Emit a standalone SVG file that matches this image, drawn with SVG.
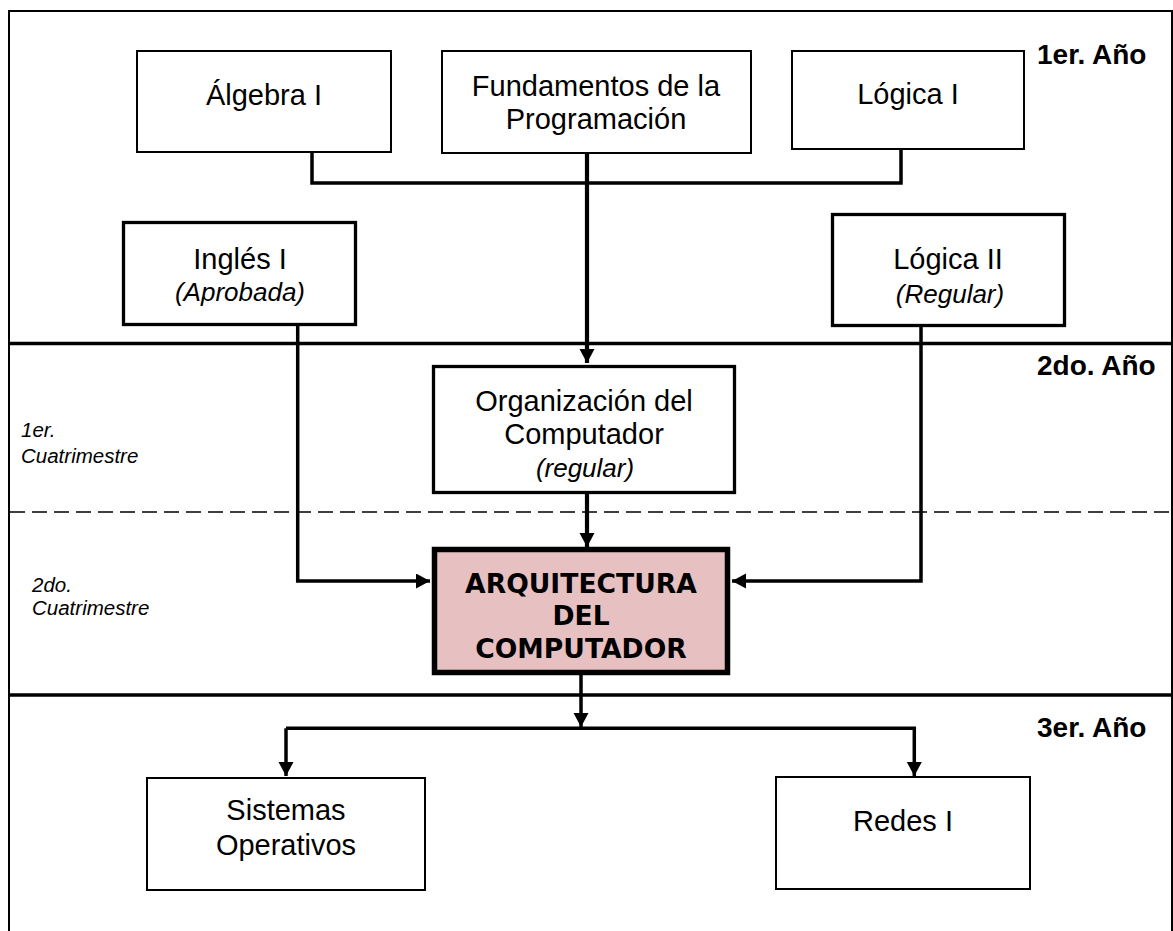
<svg xmlns="http://www.w3.org/2000/svg" width="1173" height="931" viewBox="0 0 1173 931">
<style>
  .box { fill: #ffffff; stroke: #000; stroke-width: 2; }
  .box3 { fill: #ffffff; stroke: #000; stroke-width: 3.3; }
  .main { fill: #E7C1C1; stroke: #000; stroke-width: 5.5; }
  .t { font-family: "Liberation Sans", Arial, sans-serif; font-size: 29px; fill: #000; text-anchor: middle; }
  .ti { font-family: "Liberation Sans", Arial, sans-serif; font-size: 26px; font-style: italic; fill: #000; text-anchor: middle; }
  .year { font-family: "Liberation Sans", Arial, sans-serif; font-size: 28px; font-weight: bold; fill: #000; }
  .cuat { font-family: "Liberation Sans", Arial, sans-serif; font-size: 20.5px; font-style: italic; fill: #000; }
  .mt { font-family: "DejaVu Sans", Verdana, sans-serif; font-size: 26.6px; font-weight: bold; fill: #000; text-anchor: middle; }
  .frame { stroke: #000; stroke-width: 2; fill: none; }
  .sep { stroke: #000; stroke-width: 3.5; fill: none; }
  .dash { stroke: #000; stroke-width: 1.6; stroke-dasharray: 15 7; fill: none; }
  .c { stroke: #000; stroke-width: 3.5; fill: none; }
  .c4 { stroke: #000; stroke-width: 4.2; fill: none; }
</style>
<defs>
  <marker id="ah" markerUnits="userSpaceOnUse" markerWidth="16" markerHeight="16" refX="14" refY="7.5" orient="auto">
    <path d="M0,0 L14,7.5 L0,15 z" fill="#000"/>
  </marker>
</defs>
<rect width="1173" height="931" fill="#ffffff"/>
<g id="frame">
  <path class="frame" d="M9,931 V11 H1172 V931"/>
  <line class="sep" x1="10" y1="343.5" x2="1173" y2="343.5"/>
  <line class="dash" x1="10" y1="512" x2="1173" y2="512"/>
  <line class="sep" x1="10" y1="695" x2="1173" y2="695"/>
  <text class="year" x="1037" y="64">1er. Año</text>
  <text class="year" x="1037" y="375">2do. Año</text>
  <text class="year" x="1037" y="737">3er. Año</text>
  <text class="cuat" x="21" y="437">1er.</text>
  <text class="cuat" x="21" y="463">Cuatrimestre</text>
  <text class="cuat" x="32" y="592">2do.</text>
  <text class="cuat" x="32" y="615">Cuatrimestre</text>
</g>
<g id="connectors">
  <path class="c" d="M312,153 V183 H901 V150"/>
  <path class="c4" d="M587,154 V363" marker-end="url(#ah)"/>
  <path class="c4" d="M587,494 V547" marker-end="url(#ah)"/>
  <path class="c" d="M297.7,326 V581 H430" marker-end="url(#ah)"/>
  <path class="c" d="M921,327 V581 H732" marker-end="url(#ah)"/>
  <path class="c" d="M581,675 V727" marker-end="url(#ah)"/>
  <path class="c" d="M286,728.3 V776" marker-end="url(#ah)"/>
  <path class="c" d="M286,728.3 H914.3 V776" marker-end="url(#ah)"/>
</g>
<g id="algebra">
  <rect class="box" x="137" y="51" width="254" height="101"/>
  <text class="t" x="264" y="105">Álgebra I</text>
</g>
<g id="fundamentos">
  <rect class="box" x="442" y="51" width="309" height="102"/>
  <text class="t" x="596" y="96">Fundamentos de la</text>
  <text class="t" x="596" y="129">Programación</text>
</g>
<g id="logica1">
  <rect class="box" x="792" y="51" width="232" height="98"/>
  <text class="t" x="908" y="104">Lógica I</text>
</g>
<g id="ingles">
  <rect class="box3" x="123.5" y="222.5" width="232" height="102"/>
  <text class="t" x="240" y="269">Inglés I</text>
  <text class="ti" x="240" y="301">(Aprobada)</text>
</g>
<g id="logica2">
  <rect class="box3" x="832.5" y="214.5" width="232" height="111"/>
  <text class="t" x="948" y="269">Lógica II</text>
  <text class="ti" x="950" y="303">(Regular)</text>
</g>
<g id="organizacion">
  <rect class="box3" x="433.5" y="366.5" width="301" height="126"/>
  <text class="t" x="584" y="411">Organización del</text>
  <text class="t" x="584" y="444">Computador</text>
  <text class="ti" x="585" y="477">(regular)</text>
</g>
<g id="arquitectura">
  <rect class="main" x="434.5" y="549.5" width="293" height="123"/>
  <text class="mt" x="581" y="593">ARQUITECTURA</text>
  <text class="mt" x="581" y="625">DEL</text>
  <text class="mt" x="581" y="658">COMPUTADOR</text>
</g>
<g id="sistemas">
  <rect class="box" x="147" y="778" width="278" height="112"/>
  <text class="t" x="286" y="820">Sistemas</text>
  <text class="t" x="286" y="855">Operativos</text>
</g>
<g id="redes">
  <rect class="box" x="776" y="777" width="254" height="112"/>
  <text class="t" x="903" y="831">Redes I</text>
</g>
</svg>
